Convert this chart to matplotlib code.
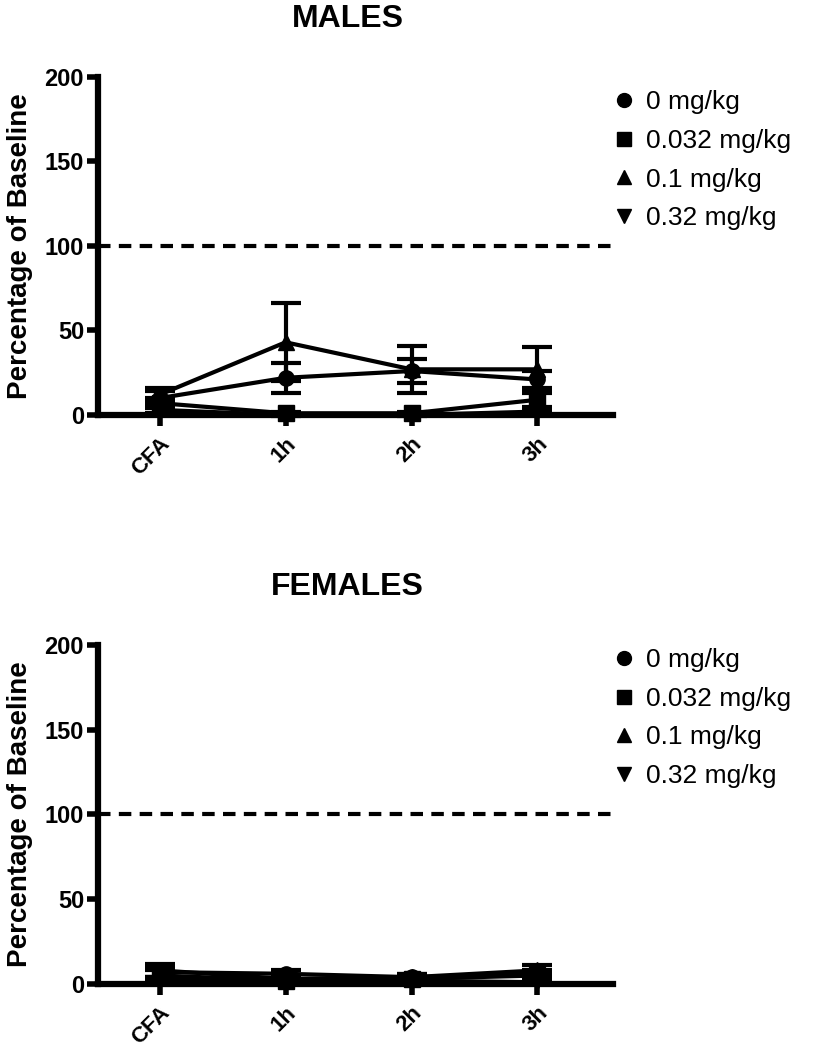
import matplotlib
matplotlib.use("Agg")
import matplotlib.pyplot as plt
from matplotlib.lines import Line2D
import numpy as np

plt.rcParams['font.family'] = ['Liberation Sans', 'DejaVu Sans']

timepoints = ["CFA", "1h", "2h", "3h"]
doses = ["0 mg/kg", "0.032 mg/kg", "0.1 mg/kg", "0.32 mg/kg"]
markers = ["o", "s", "^", "v"]

# Males
male_mean = {
    "0 mg/kg":     [10, 22, 26, 21],
    "0.032 mg/kg": [7, 1, 1, 9],
    "0.1 mg/kg":   [12, 43, 27, 27],
    "0.32 mg/kg":  [3, 0, 0, 2],
}
male_sem = {
    "0 mg/kg":     [4, 9, 7, 5],
    "0.032 mg/kg": [3, 1, 1, 4],
    "0.1 mg/kg":   [4, 23, 14, 13],
    "0.32 mg/kg":  [2, 0.5, 0.5, 1],
}
# Females
female_mean = {
    "0 mg/kg":     [7, 6, 4, 6],
    "0.032 mg/kg": [5, 2, 3, 5],
    "0.1 mg/kg":   [8, 3, 4, 8],
    "0.32 mg/kg":  [3, 1, 2, 1],
}
female_sem = {
    "0 mg/kg":     [3, 2, 2, 2],
    "0.032 mg/kg": [3, 1, 2, 2],
    "0.1 mg/kg":   [4, 1, 2, 3],
    "0.32 mg/kg":  [1, 1, 1, 1],
}

fig = plt.figure(figsize=(8.13, 10.5), dpi=100)
ax1 = fig.add_axes([0.1205, 0.6048, 0.6335, 0.3219])
ax2 = fig.add_axes([0.1205, 0.0629, 0.6335, 0.3229])

def draw(ax, means, sems, title, legend_y):
    x = np.arange(len(timepoints))
    for d, m in zip(doses, markers):
        ax.errorbar(x, means[d], yerr=sems[d], color='black', marker=m,
                    markersize=11, linewidth=3, elinewidth=3, capsize=11,
                    capthick=3, clip_on=False, zorder=3)
    ax.axhline(100, color='black', linestyle=(0, (3, 2)), linewidth=3)
    ax.set_xlim(-0.49, 3.6)
    ax.set_ylim(0, 200)
    ax.set_yticks([0, 50, 100, 150, 200])
    ax.set_xticks(x)
    ax.set_xticklabels(timepoints, rotation=45, ha='right',
                       rotation_mode='anchor', fontweight='bold', fontsize=16)
    for lab in ax.get_yticklabels():
        lab.set_fontweight('bold')
        lab.set_fontsize(17)
    ax.spines['top'].set_visible(False)
    ax.spines['right'].set_visible(False)
    ax.spines['left'].set_linewidth(4.5)
    ax.spines['bottom'].set_linewidth(4.5)
    ax.tick_params(axis='y', direction='out', length=8, width=4, pad=2)
    ax.tick_params(axis='x', direction='out', length=8, width=4, pad=5)
    ax.set_ylabel("Percentage of Baseline", fontsize=20, fontweight='bold',
                  labelpad=8)
    ax.set_title(title, fontsize=23, fontweight='bold', pad=36, x=0.485)
    handles = [Line2D([], [], color='black', marker=m, linestyle='none',
                      markersize=10) for m in markers]
    ax.legend(handles, doses, loc='upper left', bbox_to_anchor=(1.0, legend_y),
              frameon=False, fontsize=19, handlelength=0.8,
              handletextpad=0.45, labelspacing=0.55, borderpad=0,
              borderaxespad=0)

draw(ax1, male_mean, male_sem, "MALES", 0.96)
draw(ax2, female_mean, female_sem, "FEMALES", 0.99)

fig.savefig("out.png", dpi=100)
